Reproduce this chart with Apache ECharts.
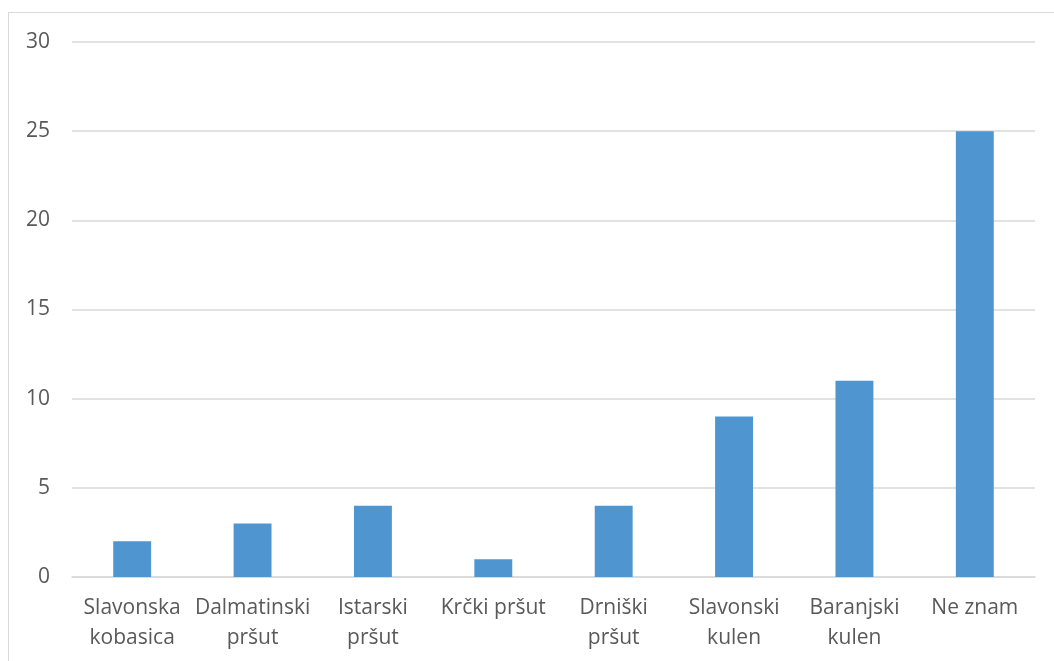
<!DOCTYPE html>
<html><head><meta charset="utf-8">
<script src="https://cdn.jsdelivr.net/npm/echarts@6/dist/echarts.min.js"></script>
<style>
html,body{margin:0;padding:0;background:#fff;}
#frame{position:absolute;left:8px;top:12px;width:1060px;height:660px;border-left:1px solid #d9d9d9;border-top:1px solid #d9d9d9;}
#c{position:absolute;left:0;top:0;width:1054px;height:661px;}
</style></head>
<body>
<div id="frame"></div>
<div id="c"></div>
<script>
const categories = ["Slavonska\nkobasica","Dalmatinski\npršut","Istarski\npršut","Krčki pršut","Drniški\npršut","Slavonski\nkulen","Baranjski\nkulen","Ne znam"];
const values = [2,3,4,1,4,9,11,25];
const yTicks = {min:0,max:30,interval:5};
const chart = echarts.init(document.getElementById('c'));
chart.setOption({
  animation:false,
  grid:{left:72,right:19,top:42,bottom:84,containLabel:false},
  xAxis:{type:'category',data:categories,
    axisLine:{lineStyle:{color:'#d9d9d9',width:1.5}},axisTick:{show:false},
    axisLabel:{color:'#595959',fontSize:21,fontFamily:'Open Sans',lineHeight:30,margin:16,interval:0}},
  yAxis:{type:'value',min:yTicks.min,max:yTicks.max,interval:yTicks.interval,
    axisLine:{show:false},axisTick:{show:false},
    splitLine:{lineStyle:{color:'#d9d9d9',width:1.5}},
    axisLabel:{color:'#595959',fontSize:21,fontFamily:'Open Sans',margin:22}},
  series:[{type:'bar',data:values,barWidth:'31.5%',itemStyle:{color:'#4f96d1'}}]
});
</script>
</body></html>
